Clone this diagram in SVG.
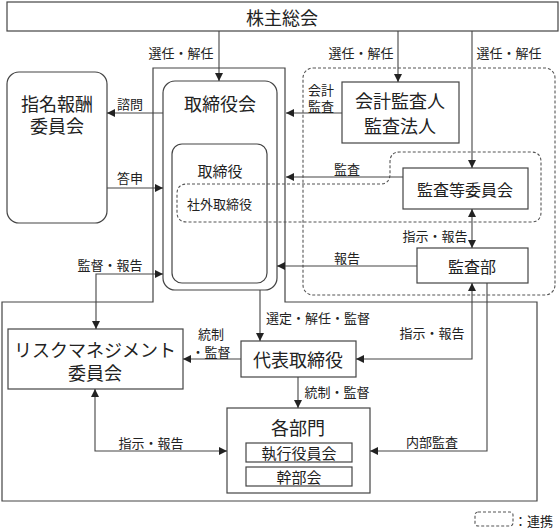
<svg xmlns="http://www.w3.org/2000/svg" width="560" height="528" viewBox="0 0 560 528">
<style>
text{font-family:"Noto Sans CJK JP","Noto Sans",sans-serif;fill:#222;text-anchor:middle;dominant-baseline:central}
.box{fill:#fff;stroke:#444;stroke-width:1.2}
.nofill{fill:none;stroke:#444;stroke-width:1.2}
.dash{fill:none;stroke:#555;stroke-width:1.1;stroke-dasharray:3 2}
.c{fill:none;stroke:#444;stroke-width:1.1}
.l{font-size:13px}
.n18{font-size:18px}
.n16{font-size:16px}
.n15{font-size:15px}
</style>
<defs>
<marker id="ah" viewBox="0 0 10 10" refX="10" refY="5" markerWidth="8" markerHeight="8" markerUnits="userSpaceOnUse" orient="auto-start-reverse">
<path d="M0,0 L10,5 L0,10 Z" fill="#222"/>
</marker>
</defs>
<rect width="560" height="528" fill="#fff"/>

<g id="group-exec">
<path class="nofill" d="M153,68 H285 V302 H537 V501 H2 V302 H153 Z"/>
</g>
<g id="group-audit">
<rect class="dash" x="303" y="68" width="252" height="227" rx="10"/>
</g>

<g id="kabunushi">
<rect class="box" x="7" y="2" width="551" height="29"/>
<text class="n18" x="282" y="17">株主総会</text>
</g>
<g id="shimei">
<rect class="box" x="7" y="72" width="100" height="151" rx="12"/>
<text class="n18" x="57" y="103">指名報酬</text>
<text class="n18" x="57" y="125">委員会</text>
</g>
<g id="torishimariyakukai">
<rect class="box" x="163" y="81" width="114" height="209" rx="12"/>
<text class="n18" x="220" y="103">取締役会</text>
</g>
<g id="torishimariyaku">
<rect class="nofill" x="172" y="144" width="95" height="139" rx="10"/>
<text class="n15" x="220" y="170">取締役</text>
</g>
<g id="shagai">
<path class="dash" d="M187,184 H380 Q390,184 390,174 V162 Q390,152 400,152 H531 Q541,152 541,162 V212 Q541,222 531,222 H187 Q177,222 177,212 V194 Q177,184 187,184 Z"/>
<text class="l" x="187" y="203" style="text-anchor:start">社外取締役</text>
</g>
<g id="kaikei">
<rect class="box" x="342" y="82" width="117" height="61"/>
<text class="n18" x="400" y="100">会計監査人</text>
<text class="n18" x="400" y="125">監査法人</text>
</g>
<g id="kansatou">
<rect class="box" x="403" y="168" width="125" height="41"/>
<text class="n16" x="465" y="189">監査等委員会</text>
</g>
<g id="kansabu">
<rect class="box" x="417" y="248" width="111" height="35"/>
<text class="n16" x="472" y="266">監査部</text>
</g>
<g id="risk">
<rect class="box" x="8" y="329" width="175" height="60"/>
<text class="n18" x="95" y="349">リスクマネジメント</text>
<text class="n18" x="95" y="372">委員会</text>
</g>
<g id="daihyo">
<rect class="box" x="241" y="341" width="115" height="36"/>
<text class="n18" x="298" y="359">代表取締役</text>
</g>
<g id="kakubumon">
<rect class="box" x="227" y="408" width="143" height="85"/>
<text class="n18" x="298" y="427">各部門</text>
<rect class="box" x="246" y="443" width="106" height="19"/>
<text class="n15" x="299" y="452.5">執行役員会</text>
<rect class="box" x="246" y="467" width="106" height="19"/>
<text class="n15" x="299" y="476.5">幹部会</text>
</g>
<g id="legend">
<rect class="dash" x="475" y="512" width="38" height="14" rx="3"/>
<text class="l" x="514" y="520" style="text-anchor:start">：連携</text>
</g>

<g id="connectors">
<path class="c" d="M219,31 V81" marker-end="url(#ah)"/>
<path class="c" d="M398,31 V82" marker-end="url(#ah)"/>
<path class="c" d="M472,31 V168" marker-end="url(#ah)"/>
<path class="c" d="M163,113 H107" marker-end="url(#ah)"/>
<path class="c" d="M342,113 H286" marker-end="url(#ah)"/>
<path class="c" d="M107,188 H163" marker-end="url(#ah)"/>
<path class="c" d="M403,177 H286" marker-end="url(#ah)"/>
<path class="c" d="M472,209 V248" marker-start="url(#ah)" marker-end="url(#ah)"/>
<path class="c" d="M417,266 H277" marker-end="url(#ah)"/>
<path class="c" d="M163,274 H96 V329" marker-start="url(#ah)" marker-end="url(#ah)"/>
<path class="c" d="M260,290 V341" marker-end="url(#ah)"/>
<path class="c" d="M241,359 H183" marker-end="url(#ah)"/>
<path class="c" d="M472,283 V359 H356" marker-start="url(#ah)" marker-end="url(#ah)"/>
<path class="c" d="M487,283 V451 H370" marker-end="url(#ah)"/>
<path class="c" d="M298,377 V408" marker-end="url(#ah)"/>
<path class="c" d="M95,389 V451 H227" marker-start="url(#ah)" marker-end="url(#ah)"/>

<text class="l" x="181" y="52">選任・解任</text>
<text class="l" x="361" y="52">選任・解任</text>
<text class="l" x="509" y="52">選任・解任</text>
<text class="l" x="130" y="103">諮問</text>
<text class="l" x="321" y="89">会計</text>
<text class="l" x="321" y="105">監査</text>
<text class="l" x="130" y="177">答申</text>
<text class="l" x="347" y="168">監査</text>
<text class="l" x="435" y="235">指示・報告</text>
<text class="l" x="347" y="257">報告</text>
<text class="l" x="110" y="264">監督・報告</text>
<text class="l" x="318" y="317">選定・解任・監督</text>
<text class="l" x="211" y="333">統制</text>
<text class="l" x="211" y="351">・監督</text>
<text class="l" x="432" y="332">指示・報告</text>
<text class="l" x="337" y="391">統制・監督</text>
<text class="l" x="432" y="441">内部監査</text>
<text class="l" x="151" y="442">指示・報告</text>
</g>
</svg>
